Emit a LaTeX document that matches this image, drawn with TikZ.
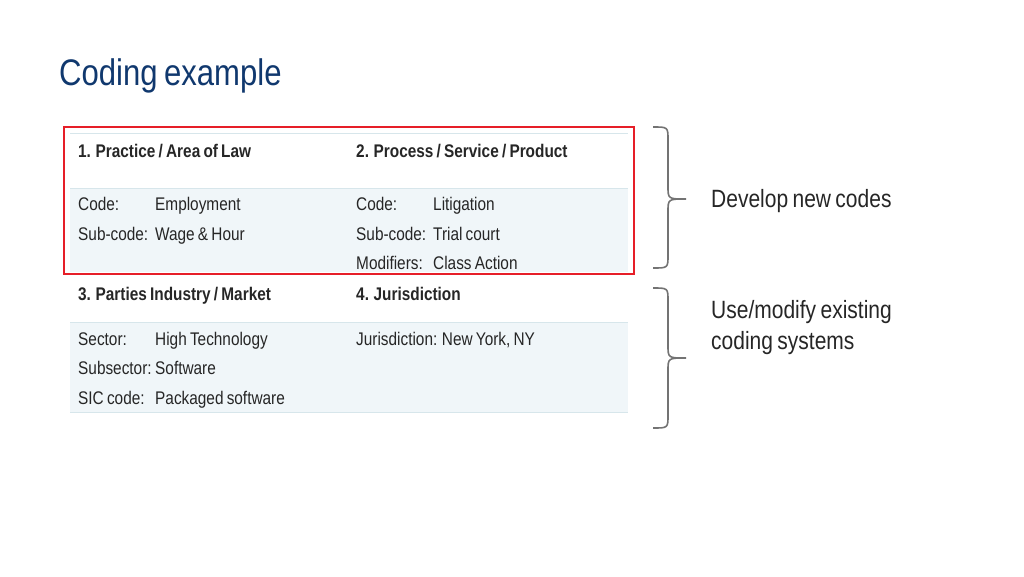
\documentclass[tikz,border=0pt]{standalone}
\usepackage{fontspec}
\setmainfont{Liberation Sans}[FakeStretch=0.84,WordSpace=0.75]
\definecolor{rowfill}{RGB}{240,246,249}
\definecolor{rulec}{RGB}{215,230,235}
\definecolor{titlec}{RGB}{16,56,110}
\definecolor{redc}{RGB}{230,30,40}
\begin{document}
\begin{tikzpicture}[x=1pt,y=-1pt,
  t/.style={anchor=base west,inner sep=0,font=\fontsize{18.3}{18}\selectfont,text=black!85},
  h/.style={t,font=\fontsize{18.3}{18}\selectfont\bfseries},
  rl/.style={anchor=base west,inner sep=0,font=\fontsize{25}{31}\selectfont,text=black!85,align=left},
  br/.style={draw=black!55,line width=1.6pt},
  rule/.style={draw=rulec,line width=1pt}]
\useasboundingbox (0,0) rectangle (1024,576);
\node[anchor=base west,inner sep=0,font=\fontsize{37}{37}\selectfont,text=titlec] (title) at (59,85) {Coding example};
\fill[rowfill] (70,188) rectangle (628,272);
\fill[rowfill] (70,322) rectangle (628,412);
\draw[rule] (70,133) -- (628,133);
\draw[rule] (70,188) -- (628,188);
\draw[rule] (70,322) -- (628,322);
\draw[rule] (70,412) -- (628,412);
\node[h] (h1) at (78,157) {1. Practice / Area of Law};
\node[h] (h2) at (356,157) {2. Process / Service / Product};
\node[t] (a1) at (78,210) {Code:};
\node[t] (a2) at (155,210) {Employment};
\node[t] (a3) at (78,240) {Sub-code:};
\node[t] (a4) at (155,240) {Wage \& Hour};
\node[t] (b1) at (356,210) {Code:};
\node[t] (b2) at (433,210) {Litigation};
\node[t] (b3) at (356,240) {Sub-code:};
\node[t] (b4) at (433,240) {Trial court};
\node[t] (b5) at (356,269) {Modifiers:};
\node[t] (b6) at (433,269) {Class Action};
\node[h] (h3) at (78,300) {3. Parties Industry / Market};
\node[h] (h4) at (356,300) {4. Jurisdiction};
\node[t] (c1) at (78,345) {Sector:};
\node[t] (c2) at (155,345) {High Technology};
\node[t] (c3) at (78,374) {Subsector:};
\node[t] (c4) at (155,374) {Software};
\node[t] (c5) at (78,404) {SIC code:};
\node[t] (c6) at (155,404) {Packaged software};
\node[t] (d1) at (356,345) {Jurisdiction: New York, NY};
\draw[draw=redc,line width=1.3pt] (64,127) rectangle (634,274);
\draw[br] (653,127) .. controls (668,127) .. (668,140) -- (668,186) .. controls (668,199) .. (686,199)
  (686,199) .. controls (668,199) .. (668,212) -- (668,255) .. controls (668,268) .. (653,268);
\draw[br] (653,288) .. controls (668,288) .. (668,301) -- (668,345) .. controls (668,358) .. (686,358)
  (686,358) .. controls (668,358) .. (668,371) -- (668,415) .. controls (668,428) .. (653,428);
\node[rl] (r1) at (711,207) {Develop new codes};
\node[rl] (r2) at (711,349) {Use/modify existing\\coding systems};
\end{tikzpicture}
\end{document}
